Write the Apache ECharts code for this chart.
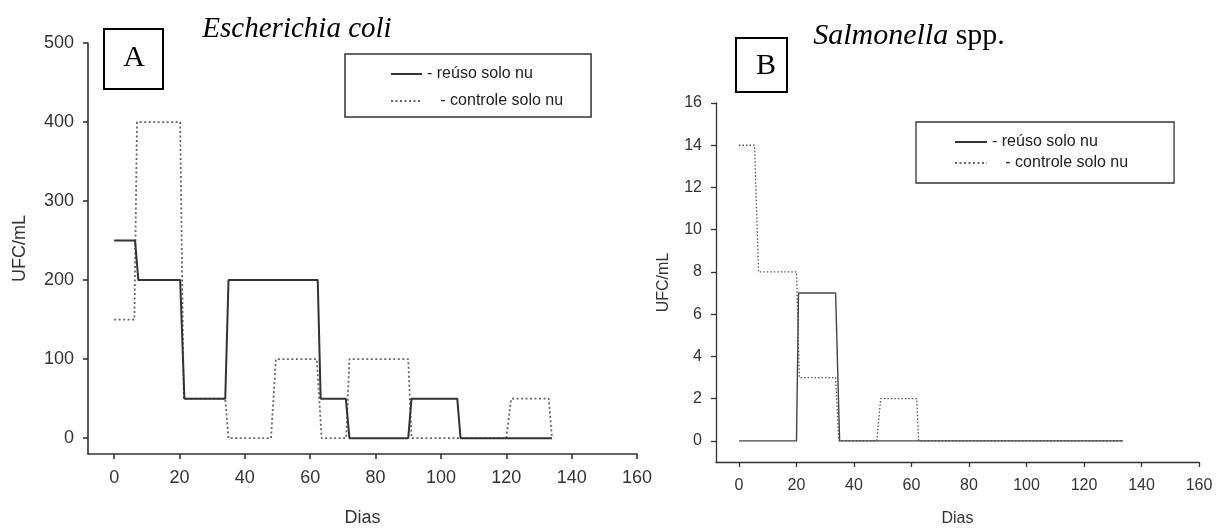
<!DOCTYPE html>
<html>
<head>
<meta charset="utf-8">
<script src="https://cdn.jsdelivr.net/npm/echarts@6/dist/echarts.min.js"></script>
<style>html,body{margin:0;padding:0;background:#fff}#c{width:1225px;height:532px}</style>
</head>
<body>
<div id="c"></div>
<script>
// ---- Data ----
const seriesNames = ['reúso solo nu', 'controle solo nu'];

// Panel A – Escherichia coli
const daysA_reuso = [0, 6.4, 7.4, 20.2, 21.5, 34, 35, 62.3, 63.2, 70.9, 72, 90, 91, 105, 106, 134];
const ufcA_reuso  = [250, 250, 200, 200, 50, 50, 200, 200, 50, 50, 0, 0, 50, 50, 0, 0];
const daysA_controle = [0, 6.2, 7, 20.2, 21.3, 34, 35, 48, 49.5, 62, 63.5, 71, 72, 90, 91, 120, 121.5, 133, 134];
const ufcA_controle  = [150, 150, 400, 400, 50, 50, 0, 0, 100, 100, 0, 0, 100, 100, 0, 0, 50, 50, 0];

// Panel B – Salmonella spp.
const daysB_reuso = [0, 20, 20.7, 33.6, 35, 133.6];
const ufcB_reuso  = [0, 0, 7, 7, 0, 0];
const daysB_controle = [0, 5.4, 6.8, 20, 21, 33.6, 34.7, 47.9, 49.3, 61.8, 62.5, 133.6];
const ufcB_controle  = [14, 14, 8, 8, 3, 3, 0, 0, 2, 2, 0, 0];

// Tick labels
const xTicks = [0, 20, 40, 60, 80, 100, 120, 140, 160];
const yTicksA = [0, 100, 200, 300, 400, 500];
const yTicksB = [0, 2, 4, 6, 8, 10, 12, 14, 16];

const zip = (xs, ys) => xs.map((x, i) => [x, ys[i]]);

const chart = echarts.init(document.getElementById('c'));
const axisCol = '#333';
const txt = '#333';
const sans = 'Liberation Sans, Arial, sans-serif';
const serif = 'Liberation Serif, Times New Roman, serif';

function xAxis(gridIndex, fs, lw, gap, nfs, margin) {
  return {
    type: 'value', gridIndex, min: -8, max: 160,
    axisLine: { show: true, onZero: false, lineStyle: { color: axisCol, width: lw } },
    axisTick: { show: true, customValues: xTicks, length: 5, lineStyle: { color: axisCol, width: lw } },
    axisLabel: { customValues: xTicks, color: txt, fontSize: fs, fontFamily: sans, margin },
    splitLine: { show: false },
    name: 'Dias', nameLocation: 'middle', nameGap: gap,
    nameTextStyle: { color: txt, fontSize: nfs, fontFamily: sans }
  };
}
function yAxis(gridIndex, min, max, ticks, fs, lw, gap, nfs) {
  return {
    type: 'value', gridIndex, min, max,
    axisLine: { show: true, onZero: false, lineStyle: { color: axisCol, width: lw } },
    axisTick: { show: true, customValues: ticks, length: 5, lineStyle: { color: axisCol, width: lw } },
    axisLabel: { customValues: ticks, color: txt, fontSize: fs, fontFamily: sans, margin: 14 },
    splitLine: { show: false },
    name: 'UFC/mL', nameLocation: 'middle', nameGap: gap,
    nameTextStyle: { color: txt, fontSize: nfs, fontFamily: sans }
  };
}

const option = {
  backgroundColor: '#fff',
  animation: false,
  title: [
    { text: '{i|Escherichia coli}', left: 292, top: 10, textAlign: 'center',
      textStyle: { fontWeight: 'normal', rich: { i: { fontFamily: serif, fontStyle: 'italic', fontWeight: 'normal', fontSize: 29, color: '#000' } } } },
    { text: '{i|Salmonella}{n| spp.}', left: 904, top: 16, textAlign: 'center',
      textStyle: { fontWeight: 'normal', rich: { i: { fontFamily: serif, fontStyle: 'italic', fontWeight: 'normal', fontSize: 30, color: '#000' },
                           n: { fontFamily: serif, fontWeight: 'normal', fontSize: 30, color: '#000' } } } }
  ],
  grid: [
    { left: 88, top: 43, width: 549, height: 415 },
    { left: 716, top: 103, width: 483, height: 365 }
  ],
  xAxis: [ xAxis(0, 18, 1.6, 55, 18, 15), xAxis(1, 16, 1.3, 49, 16, 16) ],
  yAxis: [ yAxis(0, -20, 500, yTicksA, 18, 1.6, 59, 18), yAxis(1, -1, 16, yTicksB, 16, 1.3, 44, 16) ],
  legend: [
    { orient: 'vertical', left: 345, top: 54, selectedMode: false,
      padding: [12, 28, 8, 45], itemGap: 11, itemWidth: 31, itemHeight: 14,
      borderColor: '#333', borderWidth: 1.5,
      itemStyle: { opacity: 0 },
      textStyle: { fontSize: 16, fontFamily: sans, color: '#222' },
      formatter: n => (n === seriesNames[1] ? '   - ' : '- ') + n,
      data: seriesNames },
    { orient: 'vertical', left: 916, top: 122, selectedMode: false,
      padding: [12, 46, 12, 38], itemGap: 5, itemWidth: 32, itemHeight: 14,
      borderColor: '#333', borderWidth: 1.3,
      itemStyle: { opacity: 0 },
      textStyle: { fontSize: 16, fontFamily: sans, color: '#222' },
      formatter: n => (n === seriesNames[1] ? '   - ' : '- ') + n,
      data: seriesNames }
  ],
  graphic: [
    { type: 'rect', shape: { x: 104, y: 29, width: 59, height: 60 }, style: { fill: '#fff', stroke: '#000', lineWidth: 2 } },
    { type: 'text', x: 134, y: 58, style: { text: 'A', font: '30px ' + serif, fill: '#000', align: 'center', verticalAlign: 'middle' } },
    { type: 'rect', shape: { x: 736, y: 38, width: 51, height: 54 }, style: { fill: '#fff', stroke: '#000', lineWidth: 2 } },
    { type: 'text', x: 766, y: 66, style: { text: 'B', font: '30px ' + serif, fill: '#000', align: 'center', verticalAlign: 'middle' } }
  ],
  series: [
    { name: seriesNames[0], type: 'line', xAxisIndex: 0, yAxisIndex: 0, symbol: 'none', z: 3, color: '#333',
      data: zip(daysA_reuso, ufcA_reuso), lineStyle: { color: '#333', width: 2 } },
    { name: seriesNames[1], type: 'line', xAxisIndex: 0, yAxisIndex: 0, symbol: 'none', z: 2, color: '#666',
      data: zip(daysA_controle, ufcA_controle), lineStyle: { color: '#666', width: 1.8, type: [2, 2.5] } },
    { name: seriesNames[0], type: 'line', xAxisIndex: 1, yAxisIndex: 1, symbol: 'none', z: 3, color: '#444',
      data: zip(daysB_reuso, ufcB_reuso), lineStyle: { color: '#444', width: 1.4 } },
    { name: seriesNames[1], type: 'line', xAxisIndex: 1, yAxisIndex: 1, symbol: 'none', z: 2, color: '#555',
      data: zip(daysB_controle, ufcB_controle), lineStyle: { color: '#555', width: 1.3, type: [1.5, 2] } }
  ]
};
chart.setOption(option);
</script>
</body>
</html>
